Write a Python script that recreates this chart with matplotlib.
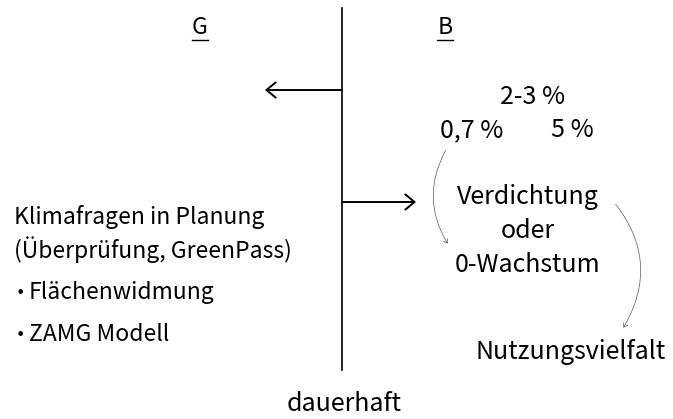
import matplotlib.pyplot as plt
from matplotlib.patches import FancyArrowPatch

plt.rcParams['font.family'] = ['Noto Sans CJK SC', 'DejaVu Sans']

# texte do diagrama
titulos = ['G', 'B']
percentuais = ['2-3 %', '0,7 %', '5 %']
centro = ['Verdichtung', 'oder', '0-Wachstum']
esquerda = ['Klimafragen in Planung', '(Überprüfung, GreenPass)']
pontos = ['Flächenwidmung', 'ZAMG Modell']
resultado = 'Nutzungsvielfalt'
rodape = 'dauerhaft'

fig = plt.figure(figsize=(6.73, 4.19), dpi=100)
ax = fig.add_axes([0, 0, 1, 1])
ax.set_xlim(0, 673)
ax.set_ylim(419, 0)
ax.axis('off')

tam = 18
tam_esq = 16.5

# linha vertical central
ax.plot([342, 342], [8, 370], color='black', lw=1.2)

# titulos sublinhados
for txt, x in zip(titulos, [200, 445]):
    ax.text(x, 28, txt, ha='center', va='center', fontsize=tam_esq)
    ax.plot([x - 8, x + 8], [40, 40], color='black', lw=1)

# setas solidas
for x0, x1, y in [(342, 265, 90), (342, 416, 202)]:
    ax.add_patch(FancyArrowPatch((x0, y), (x1, y), arrowstyle='->,head_length=3,head_width=2.5',
                                 color='black', lw=1.4, mutation_scale=2.2,
                                 shrinkA=0, shrinkB=0))

# percentuais
for txt, (x, y) in zip(percentuais, [(533, 97), (472, 130), (572, 130)]):
    ax.text(x, y, txt, ha='center', va='center', fontsize=tam)

for txt, y in zip(centro, [197, 231, 265]):
    ax.text(528, y, txt, ha='center', va='center', fontsize=tam)

ax.text(571, 352, resultado, ha='center', va='center', fontsize=tam)

for txt, y in zip(esquerda, [217, 250]):
    ax.text(14, y, txt, ha='left', va='center', fontsize=tam_esq)

for txt, y in zip(pontos, [292, 334]):
    ax.text(16, y + 1, '•', ha='left', va='center', fontsize=tam_esq * 0.7, family='DejaVu Sans')
    ax.text(29, y, txt, ha='left', va='center', fontsize=tam_esq)

ax.text(344, 404, rodape, ha='center', va='center', fontsize=tam)

# setas pontilhadas curvas
ax.add_patch(FancyArrowPatch((447, 148), (449, 246), connectionstyle='arc3,rad=0.3',
                             arrowstyle='->,head_length=2.5,head_width=1.8', color='#555555',
                             lw=0.6, linestyle=(0, (1, 1))))
ax.add_patch(FancyArrowPatch((614, 202), (622, 330), connectionstyle='arc3,rad=-0.35',
                             arrowstyle='->,head_length=2.5,head_width=1.8', color='#555555',
                             lw=0.6, linestyle=(0, (1, 1))))

fig.savefig('out.png', dpi=100)
